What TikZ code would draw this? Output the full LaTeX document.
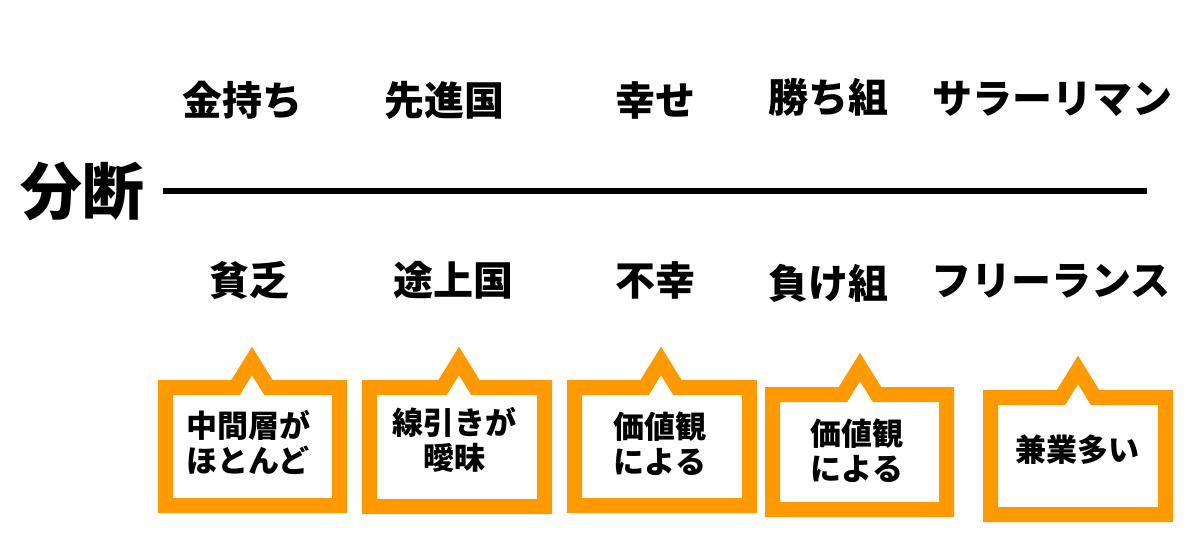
\documentclass[tikz,border=0pt]{standalone}
\usepackage{fontspec}
\newfontfamily\jp{Noto Sans CJK JP}
\definecolor{balloonorange}{RGB}{255,153,0}
\tikzset{
  word/.style={font=\jp\bfseries\fontsize{40pt}{44pt}\selectfont, inner sep=0pt, anchor=center},
  bigword/.style={font=\jp\bfseries\fontsize{62pt}{66pt}\selectfont, inner sep=0pt, anchor=center},
  note/.style={font=\jp\bfseries\fontsize{31pt}{35pt}\selectfont, inner sep=0pt, align=center, anchor=center},
  balloon/.style={draw=balloonorange, line width=15pt, line join=miter, miter limit=10, fill=white},
  divider/.style={line width=6pt, draw=black}
}
% centreline: left, right, top, bottom, apex x, apex y
\newcommand{\mycallout}[6]{%
  \pgfmathsetmacro{\myh}{0.62*(#3-#6)}%
  \draw[balloon] (#1,#3) -- ({#5-\myh},#3) -- (#5,#6) -- ({#5+\myh},#3) -- (#2,#3) -- (#2,#4) -- (#1,#4) -- cycle;%
}
\begin{document}
\begin{tikzpicture}[x=1pt,y=-1pt]
\useasboundingbox[fill=white] (0,0) rectangle (1200,542);
% left title and divider
\node[bigword] (bunDan) at (82,191) {分断};
\coordinate (lineL) at (163,191);
\coordinate (lineR) at (1147,191);
\draw[divider] (lineL) -- (lineR);
% top row
\node[word] (t1) at (242,100) {金持ち};
\node[word] (t2) at (444,100) {先進国};
\node[word] (t3) at (655,100) {幸せ};
\node[word] (t4) at (828,97) {勝ち組};
\node[word] (t5) at (1052,99) {サラーリマン};
% bottom row
\node[word] (b1) at (249,280) {貧乏};
\node[word] (b2) at (453,280) {途上国};
\node[word] (b3) at (655,280) {不幸};
\node[word] (b4) at (828,283) {負け組};
\node[word] (b5) at (1051,281) {フリーランス};
% callouts
\mycallout{165.5}{339.5}{387.5}{505.5}{252}{361}
\mycallout{369.5}{544.5}{387.5}{506.5}{459}{361}
\mycallout{574.5}{749.5}{387.5}{505.5}{661}{361}
\mycallout{772.5}{946.5}{394.5}{509.5}{860}{367}
\mycallout{990.5}{1165.5}{397.5}{514.5}{1078}{370}
\node[note] (n1) at (248,442) {中間層が\\ほとんど};
\node[note] (n2) at (454,440) {線引きが\\曖昧};
\node[note] (n3) at (660,444) {価値観\\による};
\node[note] (n4) at (857,451) {価値観\\による};
\node[note] (n5) at (1077,450) {兼業多い};
\end{tikzpicture}
\end{document}
